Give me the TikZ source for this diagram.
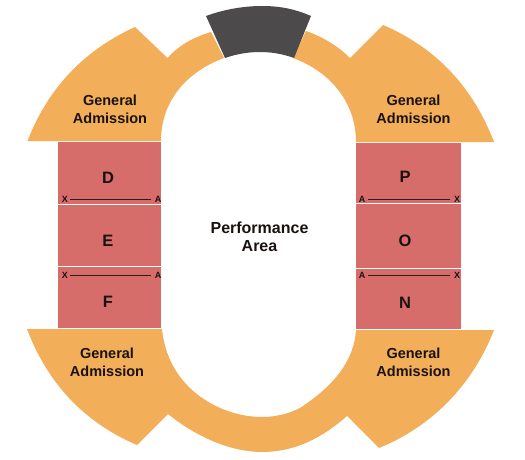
\documentclass[tikz,border=0pt]{standalone}
\usepackage{fontspec}
\setmainfont{Liberation Sans}
\definecolor{ga}{HTML}{F3AE5A}
\definecolor{sec}{HTML}{D66D6B}
\definecolor{stagec}{HTML}{4C4A4B}
\definecolor{ink}{HTML}{1A1210}
\tikzset{
  gaarea/.style={fill=ga,draw=none},
  secbox/.style={fill=sec,draw=none,inner sep=0pt,anchor=north west},
  lab/.style={font=\bfseries\fontsize{14.5}{18}\selectfont,text=ink,align=center,inner sep=0pt},
  perflab/.style={font=\bfseries\fontsize{16}{18}\selectfont,text=ink,align=center,inner sep=0pt},
  seclab/.style={font=\bfseries\fontsize{16.5}{18}\selectfont,text=ink,inner sep=0pt},
  rowlab/.style={font=\bfseries\fontsize{9}{10}\selectfont,text=ink,inner sep=0pt},
  rowline/.style={draw=ink!90!sec,line width=0.8pt}
}
\begin{document}
\begin{tikzpicture}[x=1pt,y=-1pt]
\useasboundingbox (0,0) rectangle (525,460);
% top left
\path[gaarea] (27.5,141) .. controls (47.8,88.4) and (83.7,50.4) .. (135,27) -- (167.5,58)
  .. controls (179,45) and (194,37) .. (211,32) -- (224,58)
  .. controls (186.5,72) and (161,101) .. (161,141) -- cycle;
% top right
\path[gaarea] (494,142) .. controls (473.7,89) and (437.8,48.4) .. (383,25) -- (350,58)
  .. controls (338,46) and (323,37) .. (306,31) -- (293,58)
  .. controls (331,72) and (356,103) .. (356,142) -- cycle;
% bottom
\path[gaarea] (27,329) .. controls (47,382) and (83,422) .. (137,445) -- (168,414)
  .. controls (195,436) and (230,452) .. (262,452)
  .. controls (295,452) and (322,438) .. (347,416) -- (379,448)
  .. controls (433,426) and (473,384) .. (494,330) -- (356,330)
  .. controls (354,360) and (335,385) .. (300,408)
  .. controls (288,414) and (275,417) .. (262,417)
  .. controls (222,417) and (168,390) .. (162,329) -- cycle;
% stage
\path[fill=stagec] (206,16) .. controls (225,9) and (245,6) .. (262,6)
  .. controls (280,6) and (295,9) .. (311,16) -- (294,58)
  .. controls (272,50) and (248,50) .. (225,58) -- cycle;
% sections left
\node[secbox,minimum width=103pt,minimum height=62pt] (d) at (58,142) {};
\node[secbox,minimum width=103pt,minimum height=61pt] (e) at (58,205) {};
\node[secbox,minimum width=103pt,minimum height=61pt] (f) at (58,267) {};
% sections right
\node[secbox,minimum width=105pt,minimum height=60pt] (p) at (356,143) {};
\node[secbox,minimum width=105pt,minimum height=64pt] (o) at (356,204) {};
\node[secbox,minimum width=105pt,minimum height=60pt] (n) at (356,269) {};
% section labels
\node[seclab] (dl) at (108,178) {D};
\node[seclab] (el) at (108,241) {E};
\node[seclab] (fl) at (108,301.5) {F};
\node[seclab] (pl) at (405,177) {P};
\node[seclab] (ol) at (405,241) {O};
\node[seclab] (nl) at (405,303) {N};
% row markers
\node[rowlab] (x1) at (65,199) {X};
\node[rowlab] (a1) at (158,199) {A};
\node[rowlab] (x2) at (65,275) {X};
\node[rowlab] (a2) at (158,275) {A};
\draw[rowline] (x1.east) ++(2,0) -- (151,199);
\draw[rowline] (x2.east) ++(2,0) -- (151,275);
\node[rowlab] (a3) at (362,199) {A};
\node[rowlab] (x3) at (457,199) {X};
\node[rowlab] (a4) at (362,275) {A};
\node[rowlab] (x4) at (457,275) {X};
\draw[rowline] (368,199) -- (450,199);
\draw[rowline] (368,275) -- (450,275);
% labels
\node[lab] (g1) at (110,109) {General\\Admission};
\node[lab] (g2) at (413.5,109) {General\\Admission};
\node[lab] (g3) at (107,362) {General\\Admission};
\node[lab] (g4) at (413.5,362) {General\\Admission};
\node[perflab] (perf) at (259.5,237) {Performance\\Area};
\end{tikzpicture}
\end{document}
